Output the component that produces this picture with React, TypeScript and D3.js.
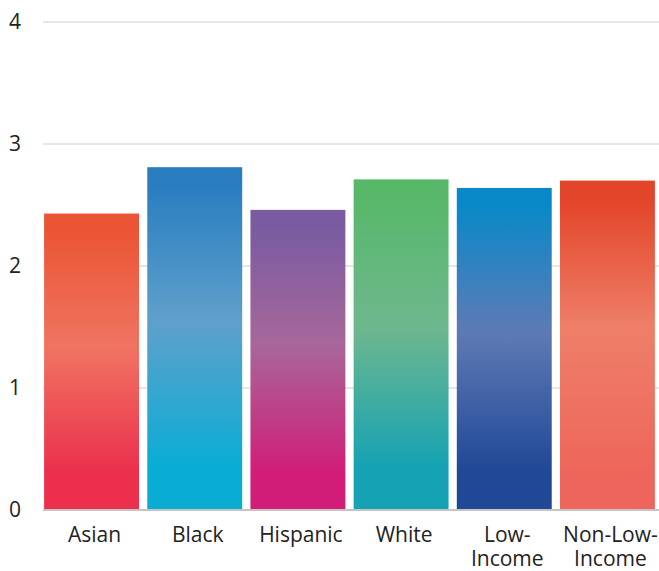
import React from "react";
import * as d3 from "d3";

const categories: string[][] = [
  ["Asian"],
  ["Black"],
  ["Hispanic"],
  ["White"],
  ["Low-", "Income"],
  ["Non-Low-", "Income"],
];
const values: number[] = [2.43, 2.81, 2.46, 2.71, 2.64, 2.7];
const yTicks: number[] = [0, 1, 2, 3, 4];
// top, middle, bottom colours of each bar's vertical gradient
const gradients: string[][] = [
  ["#EB5535", "#EF7461", "#EB2F4D"],
  ["#2A7EC0", "#5FA0CB", "#09ADD4"],
  ["#7A5BA1", "#A7679A", "#D11D77"],
  ["#58B86A", "#6EB78E", "#14A2B4"],
  ["#0A89C8", "#5E7AB5", "#214896"],
  ["#E3452A", "#EE7F69", "#EE665B"],
];

const W = 659;
const H = 571;
const left = 43;
const right = 659;
const top = 22;
const bottom = 510;

export default function App() {
  const x = d3
    .scaleBand<number>()
    .domain(d3.range(categories.length))
    .range([41, 658])
    .paddingInner(0.08)
    .paddingOuter(0.03);
  const y = d3.scaleLinear().domain([0, 4]).range([bottom, top]);
  const font = "'Open Sans', sans-serif";

  return (
    <svg
      width={W}
      height={H}
      style={{ position: "absolute", left: 0, top: 0 }}
      fontFamily={font}
    >
      <defs>
        {gradients.map((g, i) => (
          <linearGradient key={i} id={`bar-grad-${i}`} x1="0" y1="0" x2="0" y2="1">
            <stop offset="0%" stopColor={g[0]} />
            <stop offset="6%" stopColor={g[0]} />
            <stop offset="45%" stopColor={g[1]} />
            <stop offset="88%" stopColor={g[2]} />
            <stop offset="100%" stopColor={g[2]} />
          </linearGradient>
        ))}
      </defs>
      {yTicks.map((t) => (
        <g key={t}>
          <line
            x1={left}
            x2={right}
            y1={y(t)}
            y2={y(t)}
            stroke={t === 0 ? "#c4c4c4" : "#cccccc"}
            strokeWidth={t === 0 ? 2 : 1}
          />
          <text x={9} y={y(t)} dy="0.35em" fontSize={21} fill="#222">
            {t}
          </text>
        </g>
      ))}
      {values.map((v, i) => (
        <rect
          key={i}
          x={x(i)}
          y={y(v)}
          width={x.bandwidth()}
          height={y(0) - y(v) - 1}
          fill={`url(#bar-grad-${i})`}
        />
      ))}
      {categories.map((lines, i) => {
        const cx = (x(i) as number) + x.bandwidth() / 2 + 3;
        return (
          <text key={i} x={cx} y={542} textAnchor="middle" fontSize={21} fill="#222">
            {lines.map((l, j) => (
              <tspan key={j} x={cx} dy={j === 0 ? 0 : 24}>
                {l}
              </tspan>
            ))}
          </text>
        );
      })}
    </svg>
  );
}
